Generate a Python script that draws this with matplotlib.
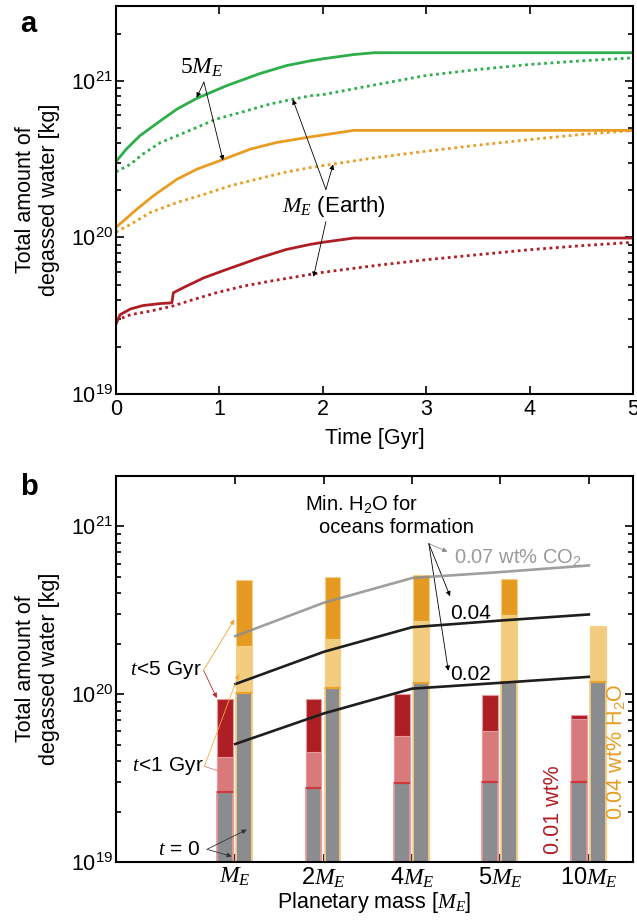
import numpy as np
import matplotlib
matplotlib.use("Agg")
import matplotlib.pyplot as plt
from matplotlib.ticker import LogLocator, NullFormatter, FixedLocator

plt.rcParams['font.family'] = ['Liberation Sans', 'DejaVu Sans']
plt.rcParams['mathtext.fontset'] = 'custom'
plt.rcParams['mathtext.rm'] = 'Liberation Sans'
plt.rcParams['mathtext.it'] = 'Liberation Serif:italic'
plt.rcParams['mathtext.sf'] = 'Liberation Serif'
plt.rcParams['mathtext.bf'] = 'Liberation Sans:bold'
plt.rcParams['axes.linewidth'] = 1.5

# ---------------- panel a: degassed water vs time ----------------
t_green_solid = [0, 0.1, 0.23, 0.43, 0.59, 0.78, 1.07, 1.39, 1.65, 1.88, 2.0,
                 2.3, 2.5, 5.0]
w_green_solid = [3.05e20, 3.66e20, 4.45e20, 5.55e20, 6.59e20, 7.71e20, 9.3e20,
                 1.11e21, 1.25e21, 1.34e21, 1.38e21, 1.47e21, 1.51e21, 1.51e21]
t_green_dot = [0, 0.14, 0.26, 0.43, 0.59, 0.78, 0.97, 1.23, 1.49, 1.72, 1.88,
               2.0, 2.5, 3.0, 3.5, 4.0, 4.5, 5.0]
w_green_dot = [2.62e20, 2.93e20, 3.4e20, 4.03e20, 4.45e20, 5.03e20, 5.69e20,
               6.34e20, 7.1e20, 7.64e20, 8.02e20, 8.15e20, 9.4e20, 1.08e21,
               1.18e21, 1.27e21, 1.34e21, 1.40e21]

t_orange_solid = [0, 0.07, 0.2, 0.36, 0.59, 0.78, 1.04, 1.3, 1.55, 1.88, 2.0,
                  2.3, 5.0]
w_orange_solid = [1.16e20, 1.27e20, 1.51e20, 1.84e20, 2.35e20, 2.72e20, 3.15e20,
                  3.66e20, 4.03e20, 4.38e20, 4.5e20, 4.82e20, 4.82e20]
t_orange_dot = [0, 0.14, 0.33, 0.59, 0.85, 1.1, 1.36, 1.62, 1.88, 2.0, 2.5,
                3.0, 3.5, 4.0, 4.5, 5.0]
w_orange_dot = [1.08e20, 1.21e20, 1.44e20, 1.67e20, 1.88e20, 2.13e20, 2.35e20,
                2.59e20, 2.79e20, 2.87e20, 3.22e20, 3.55e20, 3.88e20, 4.21e20,
                4.54e20, 4.81e20]

t_red_solid = [0, 0.04, 0.14, 0.26, 0.43, 0.54, 0.555, 0.65, 0.85, 1.07, 1.39,
               1.65, 1.88, 2.0, 2.3, 5.0]
w_red_solid = [2.8e19, 3.21e19, 3.49e19, 3.67e19, 3.78e19, 3.82e19, 4.43e19,
               4.77e19, 5.52e19, 6.24e19, 7.41e19, 8.38e19, 9.02e19, 9.3e19,
               9.9e19, 9.9e19]
t_red_dot = [0, 0.14, 0.33, 0.54, 0.75, 0.97, 1.23, 1.49, 1.88, 2.0, 2.5, 3.0,
             3.5, 4.0, 4.5, 5.0]
w_red_dot = [2.95e19, 3.21e19, 3.38e19, 3.63e19, 4.01e19, 4.43e19, 4.88e19,
             5.25e19, 5.8e19, 5.98e19, 6.6e19, 7.2e19, 7.75e19, 8.34e19,
             8.85e19, 9.3e19]

# ---------------- panel b: degassed water vs planetary mass ----------------
mass_labels = ['$M_E$', '2$M_E$', '4$M_E$', '5$M_E$', '10$M_E$']
low_t0 = [2.6e19, 2.75e19, 2.96e19, 2.99e19, 2.99e19]      # 0.01 wt%
low_t1 = [4.25e19, 4.5e19, 5.6e19, 6.0e19, 7.1e19]
low_t5 = [9.4e19, 9.4e19, 1.01e20, 9.95e19, 7.5e19]
high_t0 = [1.02e20, 1.09e20, 1.17e20, 1.19e20, 1.19e20]    # 0.04 wt% H2O
high_t1 = [1.94e20, 2.14e20, 2.73e20, 2.95e20, 2.52e20]
high_t5 = [4.77e20, 4.98e20, 5.16e20, 4.86e20, 2.55e20]
ocean_co2_007 = [2.22e20, 3.51e20, 4.93e20, 5.35e20, 5.86e20]
ocean_co2_004 = [1.15e20, 1.79e20, 2.51e20, 2.75e20, 2.99e20]
ocean_co2_002 = [5.05e19, 7.68e19, 1.08e20, 1.17e20, 1.27e20]

GREEN = '#2DAE4A'
ORANGE = '#E89C22'
RED = '#B01E25'
GRAY_BAR = '#8A8C90'
DARK_OR, LIGHT_OR, EDGE_OR, LINE_OR = '#E59B22', '#F2CD80', '#F5CF86', '#EBA12E'
DARK_RD, LIGHT_RD, EDGE_RD, LINE_RD = '#AE1E25', '#D87A7C', '#E8999B', '#D0383E'

fig = plt.figure(figsize=(6.37, 9.23), dpi=100)
W, H = 637.0, 923.0
ax_a = fig.add_axes([116 / W, 1 - 394 / H, (633 - 116) / W, (394 - 6) / H])
ax_b = fig.add_axes([116 / W, 1 - 862 / H, (633 - 116) / W, (862 - 476) / H])


def style_axis(ax):
    ax.tick_params(which='both', direction='in', top=True, right=True,
                   labelsize=15.5, width=1.2)
    ax.tick_params(which='major', length=6)
    ax.tick_params(which='minor', length=3.5)
    ax.tick_params(axis='y', pad=2)
    ax.yaxis.set_minor_locator(LogLocator(base=10, subs=np.arange(2, 10)))
    ax.yaxis.set_minor_formatter(NullFormatter())


dot = (0, (1.0, 1.3))
ax_a.plot(t_green_solid, w_green_solid, color=GREEN, lw=2.0)
ax_a.plot(t_green_dot, w_green_dot, color=GREEN, lw=2.0, ls=dot)
ax_a.plot(t_orange_solid, w_orange_solid, color=ORANGE, lw=2.0)
ax_a.plot(t_orange_dot, w_orange_dot, color=ORANGE, lw=2.0, ls=dot)
ax_a.plot(t_red_solid, w_red_solid, color=RED, lw=2.0)
ax_a.plot(t_red_dot, w_red_dot, color=RED, lw=2.0, ls=dot)

ax_a.set_yscale('log')
ax_a.set_xlim(0, 5)
ax_a.set_ylim(1e19, 3e21)
ax_a.set_xticks([0, 1, 2, 3, 4, 5])
style_axis(ax_a)
ax_a.set_xlabel('Time [Gyr]', fontsize=15.5, labelpad=6)
ax_a.set_ylabel('Total amount of\ndegassed water [kg]', fontsize=15.5, labelpad=8)

thin = dict(arrowstyle='-|>', lw=0.6, color='k', mutation_scale=7, shrinkA=0, shrinkB=0)
ax_a.text(0.83, 1.21e21, r'$\mathsf{5}M_E$', fontsize=17, ha='center', va='center')
for end in [(0.78, 7.8e20), (1.035, 3.1e20)]:
    ax_a.annotate('', xy=end, xytext=(0.85, 9.8e20), arrowprops=thin)
ax_a.text(2.11, 1.58e20, r'$M_E$ (Earth)', fontsize=16, ha='center', va='center')
for end in [(1.71, 7.6e20), (2.1, 2.92e20)]:
    ax_a.annotate('', xy=end, xytext=(2.03, 2.02e20), arrowprops=thin)
ax_a.annotate('', xy=(1.91, 5.6e19), xytext=(2.03, 1.26e20), arrowprops=thin)

fig.text(20 / W, 1 - 32 / H, 'a', fontsize=21, fontweight='bold', ha='left',
         va='baseline')

# ---------------- panel b drawing ----------------
pos = np.arange(1, 6)
ymin = 1e19
bw = 0.18
x_low = pos - 0.115
x_high = pos + 0.10

for xs, t0, t1, t5, dark, light, edge, line in [
        (x_low, low_t0, low_t1, low_t5, DARK_RD, LIGHT_RD, EDGE_RD, LINE_RD),
        (x_high, high_t0, high_t1, high_t5, DARK_OR, LIGHT_OR, EDGE_OR, LINE_OR)]:
    t0 = np.array(t0)
    t1 = np.array(t1)
    t5 = np.array(t5)
    ax_b.bar(xs, t5 - ymin, bottom=ymin, width=bw, color=dark, edgecolor=edge,
             lw=0.8, zorder=2)
    ax_b.bar(xs, t1 - ymin, bottom=ymin, width=bw, color=light, edgecolor=edge,
             lw=0.8, zorder=2)
    ax_b.bar(xs, t0 - ymin, bottom=ymin, width=bw, color=GRAY_BAR, edgecolor=edge,
             lw=1.3, zorder=2)
    ax_b.hlines(t0, xs - bw / 2, xs + bw / 2, colors=line, lw=1.6, zorder=3)

ax_b.plot(pos, ocean_co2_007, color='#8E8E8E', lw=1.9, alpha=0.85, zorder=4)
ax_b.plot(pos, ocean_co2_004, color='#1E1E1E', lw=1.9, zorder=4)
ax_b.plot(pos, ocean_co2_002, color='#1E1E1E', lw=1.9, zorder=4)

ax_b.set_yscale('log')
ax_b.set_xlim(-0.35, 5.5)
ax_b.set_ylim(1e19, 2e21)
ax_b.xaxis.set_major_locator(FixedLocator(pos))
ax_b.set_xticklabels(mass_labels)
style_axis(ax_b)
ax_b.tick_params(axis='x', labelsize=17, pad=3)
ax_b.set_xlabel('Planetary mass [$M_E$]', fontsize=15.5, labelpad=0)
ax_b.set_ylabel('Total amount of\ndegassed water [kg]', fontsize=15.5, labelpad=8)

ax_b.text(1.79, 1.37e21, 'Min. H$_2$O for', fontsize=14.5, ha='left', va='center')
ax_b.text(1.95, 9.8e20, 'oceans formation', fontsize=14.5, ha='left', va='center')
ax_b.text(3.47, 6.49e20, '0.07 wt% CO$_2$', fontsize=14.5, ha='left', va='center',
          color='#9A9A9A')
ax_b.text(3.43, 3.05e20, '0.04', fontsize=15, ha='left', va='center')
ax_b.text(3.43, 1.32e20, '0.02', fontsize=15, ha='left', va='center')

src = (3.19, 7.9e20)
ax_b.annotate('', xy=(3.40, 7.08e20), xytext=src,
              arrowprops=dict(thin, color='#8E8E8E'))
ax_b.annotate('', xy=(3.43, 3.84e20), xytext=src, arrowprops=thin)
ax_b.annotate('', xy=(3.41, 1.38e20), xytext=src, arrowprops=thin)

ax_b.text(-0.19, 1.39e20, r'$t\!<\!5$ Gyr', fontsize=15, ha='left', va='center')
ax_b.text(-0.17, 3.72e19, r'$t\!<\!1$ Gyr', fontsize=15, ha='left', va='center')
ax_b.text(0.12, 1.18e19, r'$t$ = 0', fontsize=15, ha='left', va='center')

ax_b.annotate('', xy=(0.79, 9.5e19), xytext=(0.64, 1.39e20),
              arrowprops=dict(thin, color='#C0272D'), zorder=5)
ax_b.annotate('', xy=(0.99, 2.79e20), xytext=(0.64, 1.39e20),
              arrowprops=dict(thin, color='#EBA12E'), zorder=5)
ax_b.annotate('', xy=(0.905, 3.36e19), xytext=(0.65, 3.72e19),
              arrowprops=dict(thin, color='#E0787B'), zorder=5)
ax_b.annotate('', xy=(1.04, 1.32e20), xytext=(0.65, 3.72e19),
              arrowprops=dict(thin, color='#F0B040'), zorder=5)
ax_b.annotate('', xy=(1.13, 1.56e19), xytext=(0.68, 1.19e19),
              arrowprops=dict(thin, color='#333333'), zorder=5)
ax_b.annotate('', xy=(0.96, 1.08e19), xytext=(0.68, 1.19e19),
              arrowprops=dict(thin, color='#333333'), zorder=5)

ax_b.text(4.60, 1.12e19, '0.01 wt%', fontsize=15.5, color=RED, rotation=90,
          ha='center', va='bottom')
ax_b.text(5.31, 1.77e19, '0.04 wt% H$_2$O', fontsize=15.5, color=ORANGE,
          rotation=90, ha='center', va='bottom')

fig.text(20 / W, 1 - 495 / H, 'b', fontsize=21, fontweight='bold', ha='left',
         va='baseline')

fig.savefig('out.png', dpi=100)
